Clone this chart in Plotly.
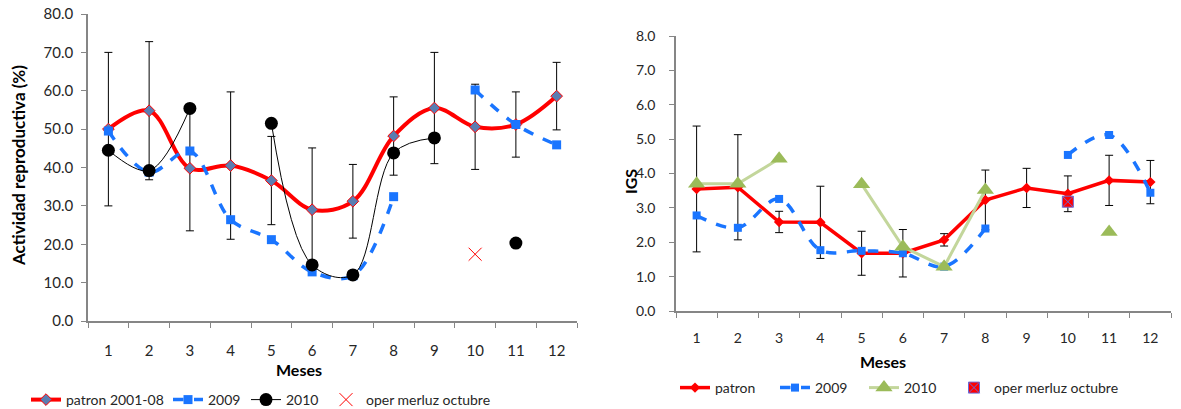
import plotly.graph_objects as go

meses = list(range(1, 13))
tick_labels = [str(m) for m in meses]

# Left chart: Actividad reproductiva (%)
patron_act = [50.0, 54.8, 39.8, 40.5, 36.6, 29.0, 31.2, 48.2, 55.5, 50.6, 51.2, 58.6]
patron_act_err = [20.0, 18.0, 16.3, 19.2, 11.5, 16.1, 9.6, 10.2, 14.5, 11.1, 8.5, 8.8]
act_2009 = [49.5, 38.8, 44.3, 26.4, 21.2, 12.8, 11.8, 32.4, None, 60.2, 51.2, 45.9]
act_2010 = [44.5, 39.2, 55.4, None, 51.5, 14.6, 12.0, 43.8, 47.7, None, 20.3, None]
oper_act_x = [10]
oper_act_y = [17.4]

# Right chart: IGS
patron_igs = [3.55, 3.6, 2.59, 2.58, 1.68, 1.68, 2.07, 3.23, 3.58, 3.41, 3.8, 3.75]
patron_igs_err = [1.83, 1.53, 0.31, 1.05, 0.64, 0.69, 0.18, 0.87, 0.57, 0.52, 0.73, 0.63]
igs_2009 = [2.78, 2.42, 3.26, 1.77, 1.75, 1.68, 1.29, 2.4, None, 4.54, 5.12, 3.44]
igs_2010 = [3.7, 3.7, 4.43, None, 3.69, 1.87, 1.29, 3.52, None, None, 2.3, None]
oper_igs_x = [10]
oper_igs_y = [3.18]

FONT = "Lato"
AXIS_COLOR = "#868686"
TXT = "#262626"
W, H = 1181, 409


def fy(px):
    """pixel row -> paper fraction"""
    return (H - px) / H


def fx(px):
    return px / W


fig = go.Figure()

# ---- left chart ----
fig.add_trace(go.Scatter(
    x=meses, y=patron_act, name="patron 2001-08", mode="lines+markers",
    line=dict(color="#FF0000", width=4, shape="spline", smoothing=1),
    marker=dict(symbol="diamond", size=9, color="#5B7DB1", line=dict(color="#FF0000", width=1)),
    error_y=dict(type="data", array=patron_act_err, color="black", thickness=1, width=4),
    xaxis="x", yaxis="y", legend="legend"))
fig.add_trace(go.Scatter(
    x=meses, y=act_2009, name="2009", mode="lines+markers", connectgaps=False,
    line=dict(color="#1A75FF", width=3.5, dash="dash", shape="spline", smoothing=1),
    marker=dict(symbol="square", size=9, color="#1A75FF"),
    xaxis="x", yaxis="y", legend="legend2"))
fig.add_trace(go.Scatter(
    x=meses, y=act_2010, name="2010", mode="lines+markers", connectgaps=False,
    line=dict(color="black", width=1, shape="spline", smoothing=1),
    marker=dict(symbol="circle", size=13, color="black"),
    xaxis="x", yaxis="y", legend="legend3"))
fig.add_trace(go.Scatter(
    x=oper_act_x, y=oper_act_y, name="oper merluz octubre", mode="markers",
    marker=dict(symbol="x-thin-open", size=13, color="#FF0000", line=dict(color="#FF0000", width=1)),
    xaxis="x", yaxis="y", legend="legend4"))

# ---- right chart ----
fig.add_trace(go.Scatter(
    x=meses, y=patron_igs, name="patron", mode="lines+markers",
    line=dict(color="#FF0000", width=3.5),
    marker=dict(symbol="diamond", size=8, color="#FF0000"),
    error_y=dict(type="data", array=patron_igs_err, color="black", thickness=1, width=4),
    xaxis="x2", yaxis="y2", legend="legend5"))
fig.add_trace(go.Scatter(
    x=meses, y=igs_2009, name="2009", mode="lines+markers", connectgaps=False,
    line=dict(color="#1A75FF", width=3.5, dash="dash", shape="spline", smoothing=1),
    marker=dict(symbol="square", size=8, color="#1A75FF"),
    xaxis="x2", yaxis="y2", legend="legend6"))
fig.add_trace(go.Scatter(
    x=meses, y=igs_2010, name="2010", mode="lines+markers", connectgaps=False,
    line=dict(color="#C3D69B", width=3),
    marker=dict(symbol="triangle-up", size=15, color="#9BBB59"),
    xaxis="x2", yaxis="y2", legend="legend7"))
fig.add_trace(go.Scatter(
    x=oper_igs_x, y=oper_igs_y, name="oper merluz octubre", mode="markers",
    marker=dict(symbol="square-x", size=11, color="#FF0000", line=dict(color="#6B6BD6", width=1)),
    xaxis="x2", yaxis="y2", legend="legend8"))

bounds = [m + 0.5 for m in range(0, 13)]


def xaxis_cfg(domain, anchor, standoff, size):
    return dict(domain=domain, anchor=anchor, range=[0.5, 12.5], tickmode="array",
                tickvals=meses, ticktext=tick_labels, ticks="", showgrid=False, zeroline=False,
                showline=True, linecolor=AXIS_COLOR, linewidth=1.5, automargin=False,
                tickfont=dict(family=FONT, size=size, color=TXT), ticklabelstandoff=standoff,
                minor=dict(tickmode="array", tickvals=bounds, ticks="outside", ticklen=5,
                           tickcolor=AXIS_COLOR, tickwidth=1, showgrid=False))


def yaxis_cfg(domain, anchor, rng, dtick, standoff, size):
    return dict(domain=domain, anchor=anchor, range=rng, dtick=dtick, tickformat=".1f",
                ticks="outside", ticklen=5, tickcolor=AXIS_COLOR, showgrid=False, zeroline=False,
                showline=True, linecolor=AXIS_COLOR, linewidth=1.5, automargin=False,
                tickfont=dict(family=FONT, size=size, color=TXT), ticklabelstandoff=standoff)


def leg(px_text_start, py_center):
    return dict(orientation="h", x=fx(px_text_start - 42), y=fy(py_center),
                xanchor="left", yanchor="middle",
                font=dict(family=FONT, size=14, color=TXT), bgcolor="rgba(0,0,0,0)",
                borderwidth=0)


fig.update_layout(
    width=W, height=H, margin=dict(l=0, r=0, t=0, b=0, autoexpand=False),
    paper_bgcolor="white", plot_bgcolor="white", showlegend=True,
    xaxis=xaxis_cfg([fx(88), fx(577)], "y", 15, 15),
    yaxis=yaxis_cfg([fy(321), fy(14)], "x", [0, 80], 10, 5, 15),
    xaxis2=xaxis_cfg([fx(676), fx(1171)], "y2", 13, 14),
    yaxis2=yaxis_cfg([fy(311), fy(36)], "x2", [0, 8], 1, 11, 14),
    legend=leg(68, 400), legend2=leg(210, 400), legend3=leg(288, 400), legend4=leg(368, 400),
    legend5=leg(717, 388), legend6=leg(817, 388), legend7=leg(906, 388), legend8=leg(996, 388),
    annotations=[
        dict(text="<b>Meses</b>", x=fx(274), y=fy(369), xref="paper", yref="paper",
             showarrow=False, font=dict(family=FONT, size=16, color="black"), yanchor="middle"),
        dict(text="<b>Meses</b>", x=fx(908), y=fy(361), xref="paper", yref="paper",
             showarrow=False, font=dict(family=FONT, size=16, color="black"), yanchor="middle"),
        dict(text="<b>Actividad reproductiva (%)</b>", x=fx(18), y=fy(166),
             xref="paper", yref="paper", showarrow=False, textangle=-90,
             font=dict(family=FONT, size=17, color="black"), xanchor="center", yanchor="middle"),
        dict(text="<b>IGS</b>", x=fx(630), y=fy(182),
             xref="paper", yref="paper", showarrow=False, textangle=-90,
             font=dict(family=FONT, size=16, color="black"), xanchor="center", yanchor="middle"),
    ],
)

fig.write_html("out.html")
